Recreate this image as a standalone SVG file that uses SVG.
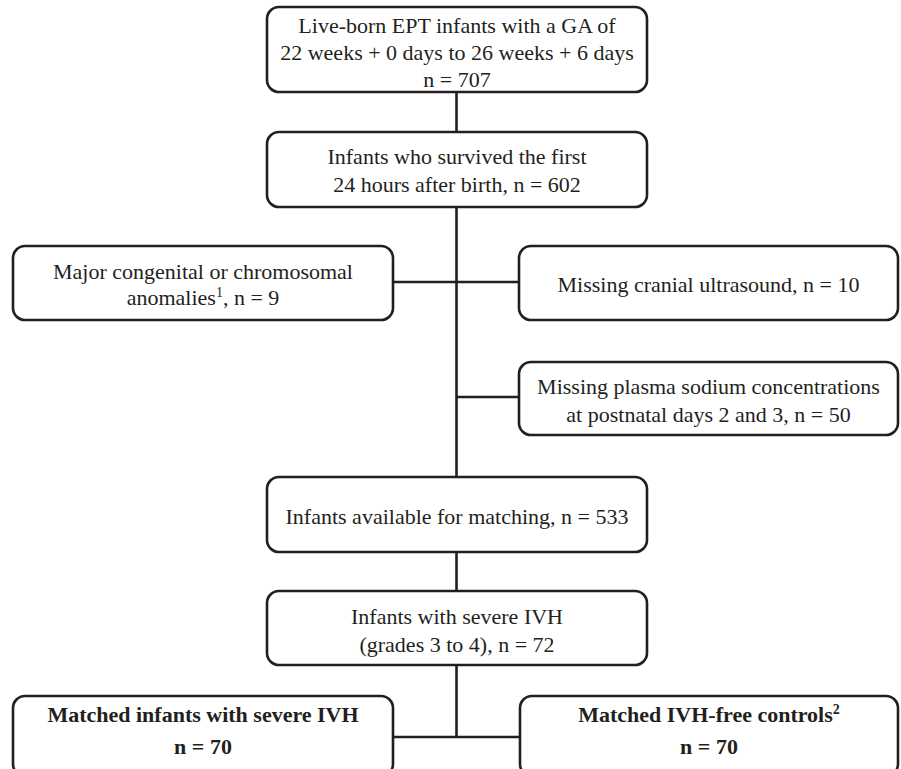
<svg xmlns="http://www.w3.org/2000/svg" width="901" height="769" viewBox="0 0 901 769">
<style>
.box{fill:#fff;stroke:#231f20;stroke-width:2.6}
.t{font-family:"Liberation Serif","Times New Roman",serif;font-size:22px;fill:#231f20;text-anchor:middle}
.b{font-weight:bold}
.c{stroke:#231f20;stroke-width:2.6;fill:none}
</style>
<rect width="901" height="769" fill="#fff"/>
<g id="connectors">
<line class="c" x1="456.5" y1="92" x2="456.5" y2="132"/>
<line class="c" x1="456.5" y1="207" x2="456.5" y2="477"/>
<line class="c" x1="393" y1="282" x2="519" y2="282"/>
<line class="c" x1="456.5" y1="397" x2="519" y2="397"/>
<line class="c" x1="456.5" y1="552" x2="456.5" y2="591"/>
<line class="c" x1="456.5" y1="665" x2="456.5" y2="737"/>
<line class="c" x1="393" y1="737" x2="520" y2="737"/>
</g>
<g id="n1">
<rect class="box" x="267" y="7" width="380" height="85" rx="12"/>
<text class="t" x="457" y="33">Live-born EPT infants with a GA of</text>
<text class="t" x="457" y="60">22 weeks + 0 days to 26 weeks + 6 days</text>
<text class="t" x="457" y="87">n = 707</text>
</g>
<g id="n2">
<rect class="box" x="267" y="132" width="380" height="75" rx="12"/>
<text class="t" x="457" y="164">Infants who survived the first</text>
<text class="t" x="457" y="192">24 hours after birth, n = 602</text>
</g>
<g id="n3">
<rect class="box" x="13" y="246" width="380" height="74" rx="12"/>
<text class="t" x="203" y="279">Major congenital or chromosomal</text>
<text class="t" x="203" y="305">anomalies<tspan font-size="14" dy="-8">1</tspan><tspan dy="8">, n = 9</tspan></text>
</g>
<g id="n4">
<rect class="box" x="519" y="246" width="379" height="74" rx="12"/>
<text class="t" x="708.5" y="292">Missing cranial ultrasound, n = 10</text>
</g>
<g id="n5">
<rect class="box" x="519" y="362" width="379" height="73" rx="12"/>
<text class="t" x="708.5" y="394">Missing plasma sodium concentrations</text>
<text class="t" x="708.5" y="422">at postnatal days 2 and 3, n = 50</text>
</g>
<g id="n6">
<rect class="box" x="267" y="477" width="380" height="75" rx="12"/>
<text class="t" x="457" y="524">Infants available for matching, n = 533</text>
</g>
<g id="n7">
<rect class="box" x="267" y="591" width="380" height="74" rx="12"/>
<text class="t" x="457" y="624">Infants with severe IVH</text>
<text class="t" x="457" y="652">(grades 3 to 4), n = 72</text>
</g>
<g id="n8">
<rect class="box" x="13" y="696" width="380" height="80" rx="12"/>
<text class="t b" x="203" y="722">Matched infants with severe IVH</text>
<text class="t b" x="203" y="754">n = 70</text>
</g>
<g id="n9">
<rect class="box" x="520" y="696" width="378" height="80" rx="12"/>
<text class="t b" x="709" y="722">Matched IVH-free controls<tspan font-size="14" dy="-8">2</tspan></text>
<text class="t b" x="709" y="754">n = 70</text>
</g>
</svg>
